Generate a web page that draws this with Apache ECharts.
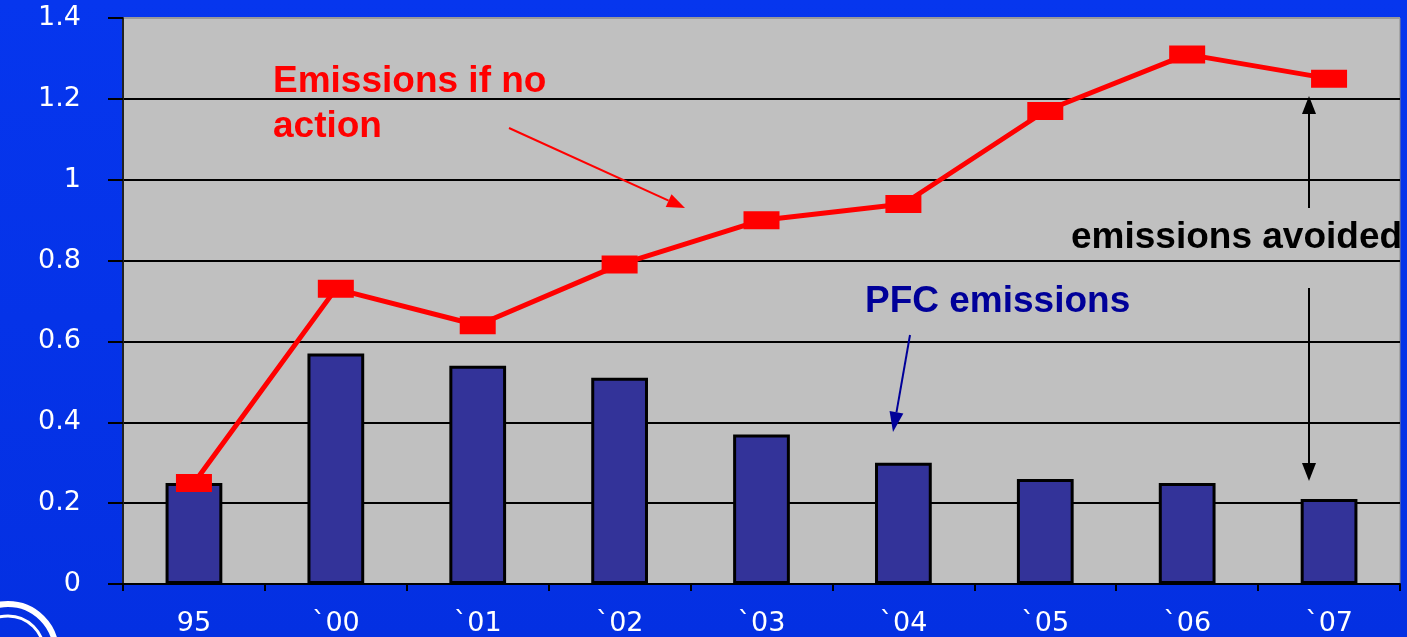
<!DOCTYPE html>
<html>
<head>
<meta charset="utf-8">
<script src="https://cdn.jsdelivr.net/npm/echarts@6/dist/echarts.min.js"></script>
<style>
html,body{margin:0;padding:0;background:#0535ec;}
#chart{width:1407px;height:637px;}
</style>
</head>
<body>
<div id="chart"></div>
<script>
// ---- data ----
var categories = ['95', '`00', '`01', '`02', '`03', '`04', '`05', '`06', '`07'];
var pfcEmissions = [0.25, 0.57, 0.54, 0.51, 0.37, 0.30, 0.26, 0.25, 0.21];
var noActionEmissions = [0.25, 0.73, 0.64, 0.79, 0.90, 0.94, 1.17, 1.31, 1.25];
var yMin = 0, yMax = 1.4, yStep = 0.2;
var annotationNoAction = ['Emissions if no', 'action'];
var annotationPFC = 'PFC emissions';
var annotationAvoided = 'emissions avoided';

function arrow(x1, y1, x2, y2, color, width, headLen, headW) {
  var dx = x2 - x1, dy = y2 - y1;
  var len = Math.sqrt(dx * dx + dy * dy);
  var ux = dx / len, uy = dy / len;
  var bx = x2 - ux * headLen, by = y2 - uy * headLen;
  var px = -uy * headW / 2, py = ux * headW / 2;
  return [
    { type: 'line', shape: { x1: x1, y1: y1, x2: bx, y2: by }, style: { stroke: color, lineWidth: width }, z: 100 },
    { type: 'polygon', shape: { points: [[x2, y2], [bx + px, by + py], [bx - px, by - py]] }, style: { fill: color }, z: 100 }
  ];
}

var chart = echarts.init(document.getElementById('chart'));
var labelFont = 'DejaVu Sans';
var annFont = '"Liberation Sans", Arial, sans-serif';

var graphics = [];
graphics.push({ type: 'text', left: 273, top: 59, z: 100,
  style: { text: annotationNoAction.join('\n'), fill: '#ff0000', font: 'bold 37px ' + annFont, lineHeight: 45 } });
graphics.push({ type: 'text', left: 865, top: 283, z: 100,
  style: { text: annotationPFC, fill: '#000099', font: 'bold 37px ' + annFont } });
graphics.push({ type: 'text', left: 1071, top: 219, z: 100,
  style: { text: annotationAvoided, fill: '#000000', font: 'bold 37px ' + annFont } });
graphics = graphics.concat(arrow(509, 128, 685, 208, '#ff0000', 2, 18, 14));
graphics = graphics.concat(arrow(910, 335, 893, 432, '#000099', 2, 20, 14));
graphics = graphics.concat(arrow(1309, 208, 1309, 96, '#000000', 2, 18, 14));
graphics = graphics.concat(arrow(1309, 288, 1309, 481, '#000000', 2, 18, 14));
graphics.push({ type: 'circle', shape: { cx: 8, cy: 652, r: 48 }, style: { fill: 'none', stroke: '#ffffff', lineWidth: 6 }, z: 5 });
graphics.push({ type: 'circle', shape: { cx: 8, cy: 652, r: 36 }, style: { fill: 'none', stroke: '#ffffff', lineWidth: 3 }, z: 5 });

chart.setOption({
  backgroundColor: {
    type: 'linear', x: 0, y: 0, x2: 0, y2: 1,
    colorStops: [{ offset: 0, color: '#0636ee' }, { offset: 1, color: '#0430e2' }]
  },
  animation: false,
  grid: { left: 123, right: 7, top: 18, bottom: 53, show: true, backgroundColor: '#c0c0c0', borderColor: '#8a8a8a', borderWidth: 1 },
  xAxis: {
    type: 'category',
    data: categories,
    axisLine: { lineStyle: { color: '#000', width: 2 } },
    axisTick: { show: true, length: 7, lineStyle: { color: '#000', width: 2 } },
    axisLabel: { color: '#ffffff', fontFamily: labelFont, fontSize: 27, margin: 26 },
    splitLine: { show: false }
  },
  yAxis: {
    type: 'value',
    min: yMin, max: yMax, interval: yStep,
    axisLine: { show: true, lineStyle: { color: '#222', width: 2 } },
    axisTick: { show: true, length: 15, lineStyle: { color: '#000', width: 2 } },
    axisLabel: { color: '#ffffff', fontFamily: labelFont, fontSize: 27, margin: 42 },
    splitLine: { show: true, lineStyle: { color: ['#000', '#000', '#000', '#000', '#000', '#000', '#000', '#9a9a9a'], width: 2 } }
  },
  series: [
    {
      name: 'PFC emissions',
      type: 'bar',
      data: pfcEmissions,
      barWidth: '40%',
      itemStyle: { color: '#333399', borderColor: '#000', borderWidth: 3 },
      z: 2
    },
    {
      name: 'Emissions if no action',
      type: 'line',
      data: noActionEmissions,
      symbol: 'rect',
      symbolSize: [36, 18],
      lineStyle: { color: '#ff0000', width: 5 },
      itemStyle: { color: '#ff0000' },
      z: 3
    }
  ],
  graphic: graphics
});
</script>
</body>
</html>
